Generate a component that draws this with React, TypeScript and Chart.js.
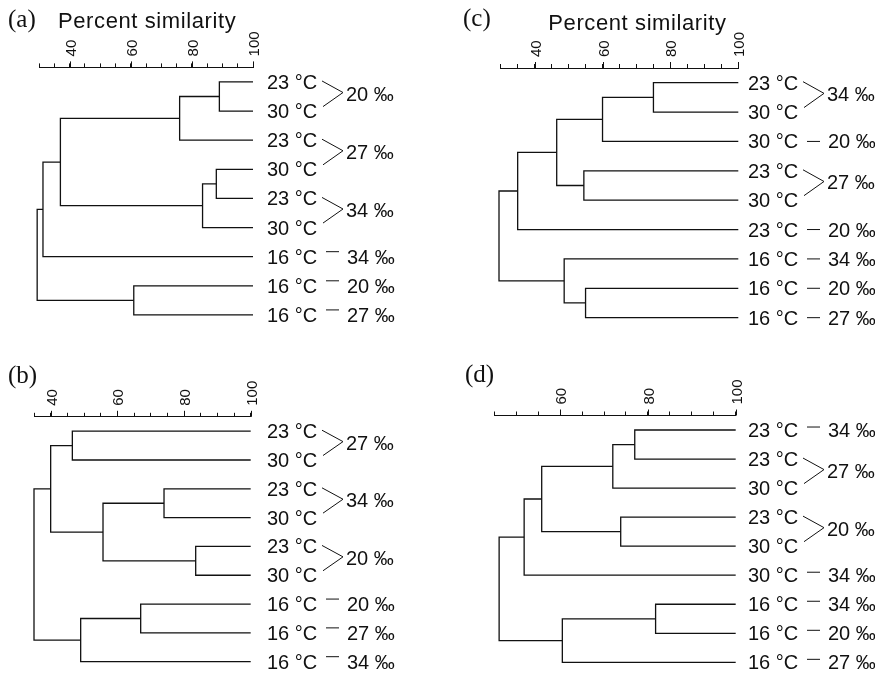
import React, { useEffect, useRef } from 'react';
import { Chart, registerables } from 'chart.js';

Chart.register(...registerables);

// ---------------- data ----------------
// Leaves are listed top to bottom. Linkage rows: [childA, childB, percent similarity];
// children 0-8 are leaves, 9+ refer to earlier linkage rows (9 = first row, ...).
const tickLabels = [40, 60, 80, 100];

// (a)
const tempsA = ['23 °C', '30 °C', '23 °C', '30 °C', '23 °C', '30 °C', '16 °C', '16 °C', '16 °C'];
const salinityA = ['20 ‰', '20 ‰', '27 ‰', '27 ‰', '34 ‰', '34 ‰', '34 ‰', '20 ‰', '27 ‰'];
const bracketsA: [number, number][] = [[0, 1], [2, 3], [4, 5]];
const linkageA: [number, number, number][] = [
  [0, 1, 89], [9, 2, 76], [3, 4, 88], [11, 5, 83.5], [10, 12, 37], [13, 6, 31.3], [7, 8, 61], [14, 15, 29.4],
];
const axisMinA = 30;

// (b)
const tempsB = ['23 °C', '30 °C', '23 °C', '30 °C', '23 °C', '30 °C', '16 °C', '16 °C', '16 °C'];
const salinityB = ['27 ‰', '27 ‰', '34 ‰', '34 ‰', '20 ‰', '20 ‰', '20 ‰', '27 ‰', '34 ‰'];
const bracketsB: [number, number][] = [[0, 1], [2, 3], [4, 5]];
const linkageB: [number, number, number][] = [
  [0, 1, 46.5], [2, 3, 74], [4, 5, 83.5], [10, 11, 55.7], [9, 12, 40], [6, 7, 67], [14, 8, 49], [13, 15, 35],
];
const axisMinB = 35;

// (c)
const tempsC = ['23 °C', '30 °C', '30 °C', '23 °C', '30 °C', '23 °C', '16 °C', '16 °C', '16 °C'];
const salinityC = ['34 ‰', '34 ‰', '20 ‰', '27 ‰', '27 ‰', '20 ‰', '34 ‰', '20 ‰', '27 ‰'];
const bracketsC: [number, number][] = [[0, 1], [3, 4]];
const linkageC: [number, number, number][] = [
  [0, 1, 75], [9, 2, 60], [3, 4, 54.5], [10, 11, 46.5], [12, 5, 35], [7, 8, 55], [6, 14, 48.7], [13, 15, 29.5],
];
const axisMinC = 30;

// (d)
const tempsD = ['23 °C', '23 °C', '30 °C', '23 °C', '30 °C', '30 °C', '16 °C', '16 °C', '16 °C'];
const salinityD = ['34 ‰', '27 ‰', '27 ‰', '20 ‰', '20 ‰', '34 ‰', '34 ‰', '20 ‰', '27 ‰'];
const bracketsD: [number, number][] = [[1, 2], [3, 4]];
const linkageD: [number, number, number][] = [
  [0, 1, 77], [9, 2, 72], [3, 4, 73.8], [10, 11, 55.8], [12, 5, 51.8], [6, 7, 81.75], [14, 8, 60.5], [13, 15, 46.1],
];
const axisMinD = 45;

// ---------------- layout / style ----------------
const AXIS_H = 45;
const SANS = '"Liberation Sans", Arial, Helvetica, sans-serif';
const SERIF = '"Liberation Serif", "Times New Roman", serif';
const INK = '#111111';

type PanelCfg = {
  letter: string;
  temps: string[];
  salinity: string[];
  brackets: [number, number][];
  linkage: [number, number, number][];
  axisMin: number;
  left: number; top: number; w: number; h: number;
  pad: { left: number; right: number; top: number; bottom: number };
  labelX: number;
  letterPos: [number, number];
  titlePos: [number, number] | null;
  dashDy: number;
};

const panels: PanelCfg[] = [
  {
    letter: '(a)', temps: tempsA, salinity: salinityA, brackets: bracketsA, linkage: linkageA, axisMin: axisMinA,
    left: 0, top: 0, w: 437, h: 337,
    pad: { left: 39, right: 184, top: 67.4 - AXIS_H, bottom: 14.8 },
    labelX: 267, letterPos: [8, 26.5], titlePos: [58, 28.3], dashDy: -5,
  },
  {
    letter: '(c)', temps: tempsC, salinity: salinityC, brackets: bracketsC, linkage: linkageC, axisMin: axisMinC,
    left: 437, top: 0, w: 438, h: 337,
    pad: { left: 63.7, right: 136.7, top: 68 - AXIS_H, bottom: 12 },
    labelX: 311, letterPos: [26, 25.5], titlePos: [111.3, 30], dashDy: 0,
  },
  {
    letter: '(b)', temps: tempsB, salinity: salinityB, brackets: bracketsB, linkage: linkageB, axisMin: axisMinB,
    left: 0, top: 337, w: 437, h: 338,
    pad: { left: 34, right: 186.3, top: 79.8 - AXIS_H, bottom: 6.1 },
    labelX: 267, letterPos: [8, 45.5], titlePos: null, dashDy: -5,
  },
  {
    letter: '(d)', temps: tempsD, salinity: salinityD, brackets: bracketsD, linkage: linkageD, axisMin: axisMinD,
    left: 437, top: 337, w: 438, h: 338,
    pad: { left: 57.3, right: 139.3, top: 78.5 - AXIS_H, bottom: 5.4 },
    labelX: 311, letterPos: [28, 45], titlePos: null, dashDy: -3,
  },
];

// Build U-shaped dendrogram links from a linkage table (data coordinates)
function buildLinks(linkage: [number, number, number][], nLeaves: number) {
  const pos: { x: number; y: number }[] = [];
  for (let i = 0; i < nLeaves; i++) pos.push({ x: 100, y: i });
  const links: { x: number; y: number }[][] = [];
  linkage.forEach(([a, b, s]) => {
    const pa = pos[a];
    const pb = pos[b];
    links.push([
      { x: pa.x, y: pa.y },
      { x: s, y: pa.y },
      { x: s, y: pb.y },
      { x: pb.x, y: pb.y },
    ]);
    pos.push({ x: s, y: (pa.y + pb.y) / 2 });
  });
  return links;
}

function makeLabelPlugin(p: PanelCfg) {
  return {
    id: 'leafLabels',
    afterDraw(chart: any) {
      const ctx: CanvasRenderingContext2D = chart.ctx;
      const ys = chart.scales.y;
      const xs = chart.scales.x;
      const yOf = (i: number) => ys.getPixelForValue(i);
      const L = p.labelX;
      ctx.save();
      ctx.fillStyle = '#111';
      ctx.strokeStyle = INK;
      ctx.lineWidth = 1;
      ctx.textAlign = 'left';
      ctx.textBaseline = 'alphabetic';

      // rotated axis tick labels + slightly longer major tick marks
      ctx.font = `15px ${SANS}`;
      const axisY = chart.chartArea.top;
      tickLabels.forEach((v) => {
        if (v < xs.min || v > xs.max) return;
        const x = Math.round(xs.getPixelForValue(v)) + 0.5;
        ctx.beginPath();
        ctx.moveTo(x, axisY - 6);
        ctx.lineTo(x, axisY);
        ctx.stroke();
        ctx.save();
        ctx.translate(x, axisY - 11);
        ctx.rotate(-Math.PI / 2);
        ctx.fillText(String(v), 0, 5.5);
        ctx.restore();
      });

      // panel letter
      ctx.font = `25px ${SERIF}`;
      ctx.fillText(p.letter, p.letterPos[0], p.letterPos[1]);

      // title
      if (p.titlePos) {
        ctx.font = `22px ${SANS}`;
        (ctx as any).letterSpacing = '0.6px';
        ctx.fillText('Percent similarity', p.titlePos[0], p.titlePos[1]);
        (ctx as any).letterSpacing = '0px';
      }

      ctx.font = `20px ${SANS}`;
      p.temps.forEach((t, i) => ctx.fillText(t, L, yOf(i) + 7));

      const inBracket = new Set<number>();
      p.brackets.forEach(([a, b]) => {
        inBracket.add(a);
        inBracket.add(b);
        const ya = yOf(a);
        const yb = yOf(b);
        const mid = (ya + yb) / 2;
        ctx.beginPath();
        ctx.moveTo(L + 55, ya - 1);
        ctx.lineTo(L + 76, mid - 4);
        ctx.lineTo(L + 56, yb - 4.5);
        ctx.stroke();
        ctx.fillText(p.salinity[a], L + 79, mid + 4);
      });
      p.temps.forEach((_, i) => {
        if (inBracket.has(i)) return;
        const y = yOf(i);
        ctx.beginPath();
        ctx.moveTo(L + 59, y + p.dashDy);
        ctx.lineTo(L + 72, y + p.dashDy);
        ctx.stroke();
        ctx.fillText(p.salinity[i], L + 80, y + 7);
      });
      ctx.restore();
    },
  };
}

function Panel({ p }: { p: PanelCfg }) {
  const ref = useRef<HTMLCanvasElement>(null);
  useEffect(() => {
    if (!ref.current) return;
    const links = buildLinks(p.linkage, p.temps.length);
    const chart = new Chart(ref.current, {
      type: 'scatter',
      data: {
        datasets: links.map((d) => ({
          data: d,
          showLine: true,
          borderColor: INK,
          borderWidth: 1.3,
          pointRadius: 0,
          pointHoverRadius: 0,
          tension: 0,
          fill: false,
          clip: false as any,
        })),
      },
      options: {
        responsive: false,
        animation: false,
        events: [],
        devicePixelRatio: 1,
        layout: { padding: p.pad },
        plugins: {
          legend: { display: false },
          tooltip: { enabled: false },
          title: { display: false },
        },
        scales: {
          x: {
            type: 'linear',
            position: 'top',
            min: p.axisMin,
            max: 100,
            afterFit: (s: any) => {
              s.height = AXIS_H;
            },
            grid: {
              display: true,
              drawOnChartArea: false,
              drawTicks: true,
              tickLength: 4,
              color: INK,
              tickColor: INK,
            },
            border: { display: true, color: INK, width: 1 },
            ticks: {
              display: false,
              stepSize: 5,
              autoSkip: false,
            },
          },
          y: {
            type: 'linear',
            display: false,
            reverse: true,
            min: -0.5,
            max: 8.25,
          },
        },
      } as any,
      plugins: [makeLabelPlugin(p)],
    });
    return () => chart.destroy();
  }, [p]);
  return (
    <canvas
      ref={ref}
      width={p.w}
      height={p.h}
      style={{ position: 'absolute', left: p.left, top: p.top, width: p.w, height: p.h, display: 'block' }}
    />
  );
}

export default function App() {
  return (
    <div
      style={{
        position: 'fixed',
        left: 0,
        top: 0,
        width: 875,
        height: 675,
        background: '#fff',
        overflow: 'hidden',
      }}
    >
      {panels.map((p) => (
        <Panel key={p.letter} p={p} />
      ))}
    </div>
  );
}
